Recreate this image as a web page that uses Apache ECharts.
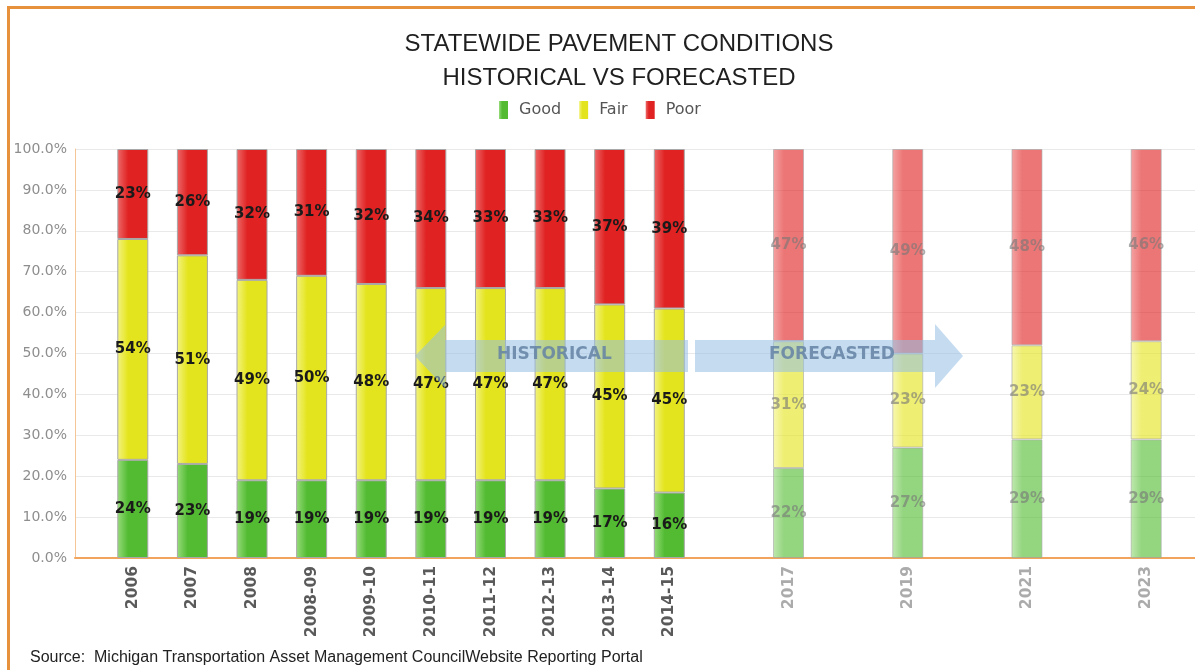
<!DOCTYPE html>
<html>
<head>
<meta charset="utf-8">
<script src="https://cdn.jsdelivr.net/npm/echarts@6/dist/echarts.min.js"></script>
<style>
  html, body { margin: 0; padding: 0; background: #fff; }
  #frame {
    position: absolute; left: 7px; top: 6px; right: 0; bottom: 0;
    border-left: 3px solid #e8913c; border-top: 3px solid #e8913c;
  }
  #chart { position: absolute; left: 0; top: 0; width: 1195px; height: 670px; }
</style>
</head>
<body>
<div id="frame"></div>
<div id="chart"></div>
<script>
// one slot per year, blank slots keep the gaps between forecast years
const years = ['2006', '2007', '2008', '2008-09', '2009-10', '2010-11', '2011-12', '2012-13', '2013-14', '2014-15',
  '', '2017', '', '2019', '', '2021', '', '2023'];
const forecastFrom = 11;
const goodPct = [24, 23, 19, 19, 19, 19, 19, 19, 17, 16, null, 22, null, 27, null, 29, null, 29];
const fairPct = [54, 51, 49, 50, 48, 47, 47, 47, 45, 45, null, 31, null, 23, null, 23, null, 24];
const poorPct = [23, 26, 32, 31, 32, 34, 33, 33, 37, 39, null, 47, null, 49, null, 48, null, 46];

const chart = echarts.init(document.getElementById('chart'));

const grad = (light, dark) => new echarts.graphic.LinearGradient(0, 0, 1, 0, [
  { offset: 0, color: light },
  { offset: 0.35, color: dark },
  { offset: 1, color: dark }
]);

const makeData = (vals, shown) => vals.map((v, i) => {
  if (v == null) return null;
  const fc = i >= forecastFrom;
  return {
    value: v,
    pct: shown[i],
    itemStyle: { opacity: fc ? 0.62 : 1 },
    label: { color: fc ? '#777' : '#1a1a1a' }
  };
});

// poor segment fills the bar up to 100%
const poorFill = goodPct.map((g, i) => g == null ? null : 100 - g - fairPct[i]);

const barSeries = (name, vals, shown, light, dark) => ({
  name,
  type: 'bar',
  stack: 'all',
  xAxisIndex: 1,
  yAxisIndex: 1,
  barWidth: 31,
  data: makeData(vals, shown),
  itemStyle: { color: grad(light, dark), borderColor: '#a8a8a8', borderWidth: 1 },
  label: {
    show: true,
    position: 'inside',
    fontFamily: 'DejaVu Sans',
    fontWeight: 'bold',
    fontSize: 15,
    formatter: p => p.data.pct + '%'
  }
});

const option = {
  animation: false,
  title: {
    text: 'STATEWIDE PAVEMENT CONDITIONS\nHISTORICAL VS FORECASTED',
    left: 614,
    textAlign: 'center',
    top: 22,
    textStyle: { fontFamily: 'Liberation Sans', fontSize: 24, fontWeight: 'normal', color: '#1f1f1f', lineHeight: 34 }
  },
  legend: {
    left: 494,
    top: 96,
    itemWidth: 9,
    itemHeight: 18,
    itemGap: 18,
    icon: 'rect',
    data: ['Good', 'Fair', 'Poor'],
    itemStyle: { borderWidth: 0 },
    textStyle: { fontFamily: 'DejaVu Sans', fontSize: 16, color: '#555', padding: [0, 0, 0, 6] }
  },
  // grid 0 carries the frame (axis lines, gridlines, y labels), grid 1 the bars
  grid: [
    { left: 75, right: 0, top: 149, bottom: 112 },
    { left: 103, right: 19, top: 149, bottom: 112 }
  ],
  xAxis: [
    {
      gridIndex: 0,
      type: 'value',
      min: 0,
      max: 1,
      splitLine: { show: false },
      axisLine: { show: true, onZero: false, lineStyle: { color: '#f2a35c', width: 2 } },
      axisTick: { show: false },
      axisLabel: { show: false }
    },
    {
      gridIndex: 1,
      type: 'category',
      data: years,
      axisLine: { show: false },
      axisTick: { show: false },
      axisLabel: {
        interval: 0,
        rotate: 90,
        margin: 8,
        formatter: (v, i) => i >= forecastFrom ? '{f|' + v + '}' : '{h|' + v + '}',
        rich: {
          h: { fontFamily: 'DejaVu Sans', fontWeight: 'bold', fontSize: 15.5, color: '#5a5a5a' },
          f: { fontFamily: 'DejaVu Sans', fontWeight: 'bold', fontSize: 15.5, color: '#ababab' }
        }
      }
    }
  ],
  yAxis: [
    {
      gridIndex: 0,
      type: 'value',
      min: 0,
      max: 100,
      interval: 10,
      axisLine: { show: true, onZero: false, lineStyle: { color: '#f5c596', width: 1 } },
      axisTick: { show: false },
      splitLine: { lineStyle: { color: '#e9e9e9' } },
      axisLabel: {
        margin: 8,
        fontFamily: 'DejaVu Sans',
        fontSize: 14,
        color: '#8e8e8e',
        formatter: v => v.toFixed(1) + '%'
      }
    },
    {
      gridIndex: 1,
      type: 'value',
      min: 0,
      max: 100,
      show: false
    }
  ],
  series: [
    barSeries('Good', goodPct, goodPct, '#98dc7c', '#52bb32'),
    barSeries('Fair', fairPct, fairPct, '#f3f382', '#e4e41e'),
    barSeries('Poor', poorFill, poorPct, '#ee6a6a', '#e02222')
  ],
  color: ['#52bb32', '#e4e41e', '#e02222'],
  graphic: [
    {
      type: 'polygon', z: 100,
      shape: { points: [[415, 356], [445, 325], [445, 340], [688, 340], [688, 372], [445, 372], [445, 388]] },
      style: { fill: 'rgba(150, 192, 228, 0.55)' }
    },
    {
      type: 'polygon', z: 100,
      shape: { points: [[695, 340], [935, 340], [935, 324], [963, 356], [935, 388], [935, 372], [695, 372]] },
      style: { fill: 'rgba(150, 192, 228, 0.55)' }
    },
    {
      type: 'text', z: 101, left: 497, top: 346,
      style: { text: 'HISTORICAL', fontFamily: 'DejaVu Sans', fontWeight: 'bold', fontSize: 17, fill: 'rgba(100, 130, 165, 0.85)' }
    },
    {
      type: 'text', z: 101, left: 769, top: 346,
      style: { text: 'FORECASTED', fontFamily: 'DejaVu Sans', fontWeight: 'bold', fontSize: 17, fill: 'rgba(100, 130, 165, 0.85)' }
    },
    {
      type: 'text', left: 30, top: 650,
      style: { text: 'Source:  Michigan Transportation Asset Management CouncilWebsite Reporting Portal', fontFamily: 'Liberation Sans', fontSize: 16, fill: '#222' }
    }
  ]
};

chart.setOption(option);
</script>
</body>
</html>
